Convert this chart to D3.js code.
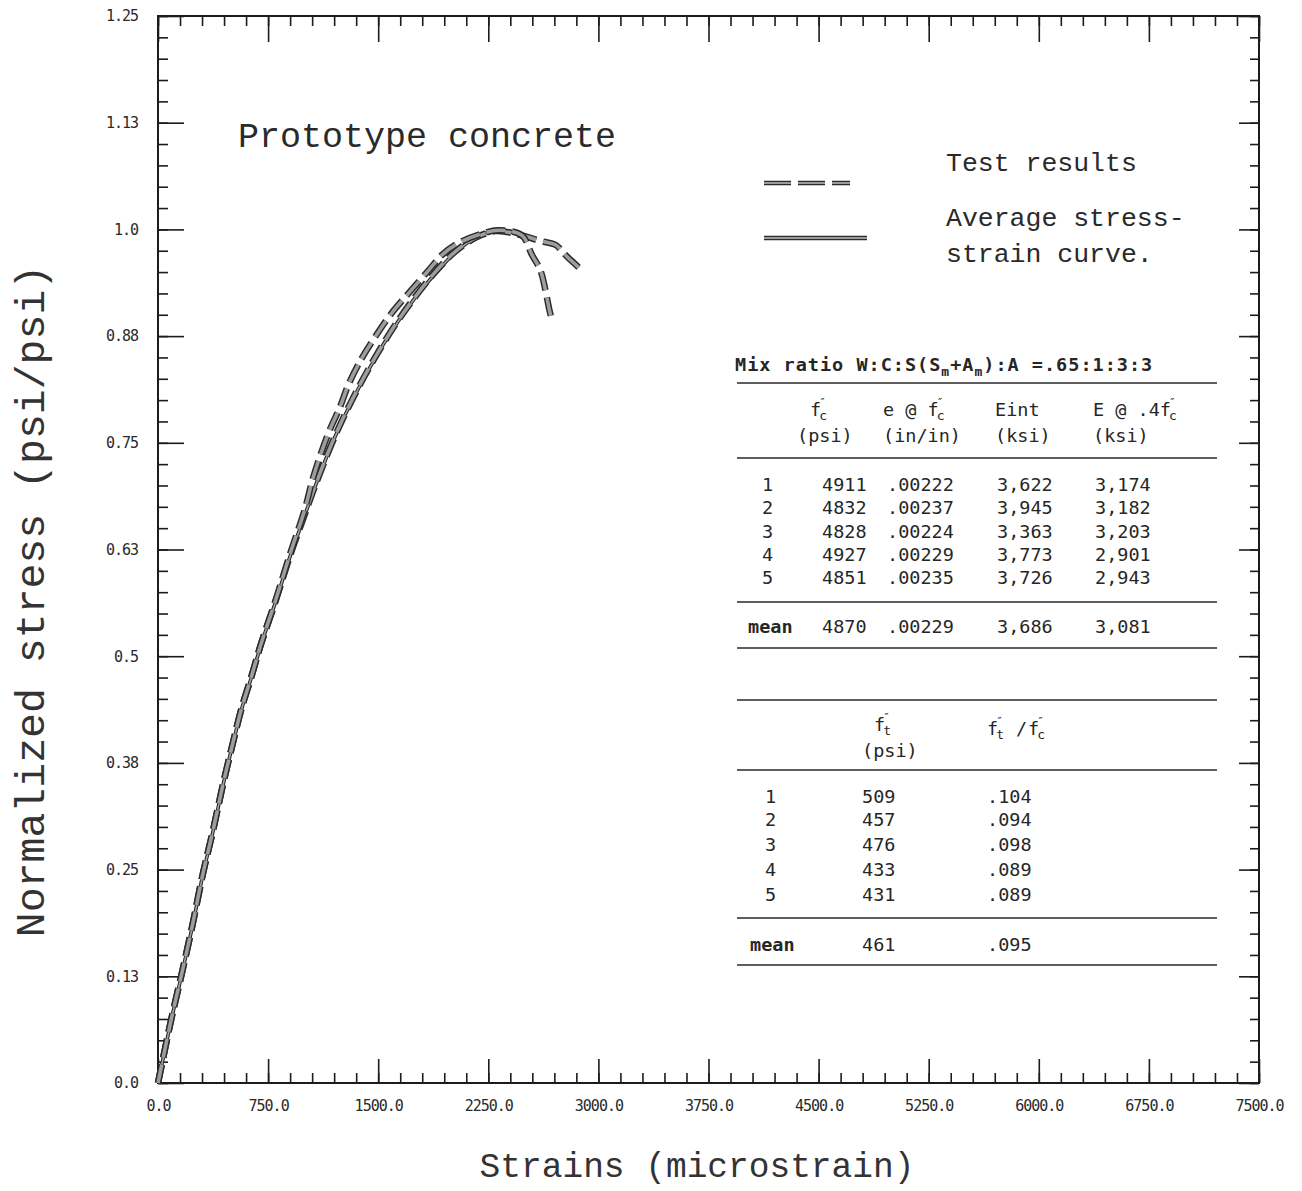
<!DOCTYPE html>
<html>
<head>
<meta charset="utf-8">
<script src="https://cdn.jsdelivr.net/npm/d3@7"></script>
<style>
  body { margin: 0; background: #fff; }
  svg { display: block; }
</style>
</head>
<body>
<svg id="chart" width="1302" height="1191"></svg>
<script>
// ---- axis definitions ----
const strainDomain = [0, 7500];
const stressDomain = [0, 1.25];
const xMajorTicks = [0, 750, 1500, 2250, 3000, 3750, 4500, 5250, 6000, 6750, 7500];
const xTickLabels = ["0.0", "750.0", "1500.0", "2250.0", "3000.0", "3750.0", "4500.0", "5250.0", "6000.0", "6750.0", "7500.0"];
const yMajorTicks = [0, 0.125, 0.25, 0.375, 0.5, 0.625, 0.75, 0.875, 1.0, 1.125, 1.25];
const yTickLabels = ["0.0", "0.13", "0.25", "0.38", "0.5", "0.63", "0.75", "0.88", "1.0", "1.13", "1.25"];
const xMinorStep = 150;
const yMinorStep = 0.025;

// ---- curves: [microstrain, normalized stress] ----
const averageCurve = [
  [0, 0], [92, 0.075], [159, 0.125], [230, 0.18], [307, 0.245], [375, 0.295],
  [443, 0.349], [511, 0.398], [568, 0.437], [636, 0.475], [705, 0.515], [800, 0.563],
  [900, 0.617], [1000, 0.665], [1069, 0.698], [1206, 0.757], [1342, 0.806],
  [1479, 0.849], [1615, 0.887], [1752, 0.92], [1888, 0.948], [2025, 0.973],
  [2161, 0.99], [2298, 0.999], [2434, 0.996], [2502, 0.991]
];
const testCurveA = [
  [0, 0], [92, 0.076], [159, 0.126], [230, 0.181], [307, 0.246], [375, 0.296],
  [443, 0.35], [511, 0.399], [568, 0.438], [636, 0.476], [705, 0.516], [800, 0.565],
  [900, 0.62], [1000, 0.672], [1058, 0.71], [1160, 0.761], [1240, 0.792],
  [1297, 0.818], [1388, 0.849], [1479, 0.874], [1592, 0.902], [1706, 0.925],
  [1843, 0.952], [1934, 0.97], [2047, 0.984], [2206, 0.995], [2320, 0.999],
  [2479, 0.993], [2548, 0.970], [2605, 0.952], [2639, 0.929], [2662, 0.909], [2685, 0.892]
];
const testCurveB = [
  [0, 0], [92, 0.076], [159, 0.126], [230, 0.181], [307, 0.246], [375, 0.296],
  [443, 0.35], [511, 0.399], [568, 0.438], [636, 0.476], [705, 0.516], [800, 0.564],
  [900, 0.618], [1000, 0.666], [1069, 0.699], [1206, 0.758], [1342, 0.807],
  [1479, 0.85], [1615, 0.888], [1752, 0.921], [1888, 0.95], [2025, 0.974],
  [2161, 0.99], [2298, 0.998], [2434, 0.995], [2616, 0.986], [2707, 0.982],
  [2787, 0.968], [2889, 0.952]
];

// ---- compression test table ----
const mixRatioParts = ["Mix ratio W:C:S(S", "m", "+A", "m", "):A =.65:1:3:3"];
const specimenIds = ["1", "2", "3", "4", "5"];
const fcPsi = ["4911", "4832", "4828", "4927", "4851"];
const strainAtPeak = [".00222", ".00237", ".00224", ".00229", ".00235"];
const initialModulus = ["3,622", "3,945", "3,363", "3,773", "3,726"];
const secantModulus = ["3,174", "3,182", "3,203", "2,901", "2,943"];
const compressionMean = ["mean", "4870", ".00229", "3,686", "3,081"];

// ---- tension test table ----
const ftPsi = ["509", "457", "476", "433", "431"];
const ftOverFc = [".104", ".094", ".098", ".089", ".089"];
const tensionMean = ["mean", "461", ".095"];

// ---- layout ----
const svg = d3.select("#chart");
svg.append("rect").attr("width", 1302).attr("height", 1191).attr("fill", "#fff");

const plot = { left: 158, right: 1259, top: 16, bottom: 1083 };
const x = d3.scaleLinear().domain(strainDomain).range([plot.left, plot.right]);
const y = d3.scaleLinear().domain(stressDomain).range([plot.bottom, plot.top]);

const ink = "#1c1c1c";
const tickFont = "'DejaVu Sans Mono', monospace";
const typeFont = "'Liberation Mono', 'DejaVu Sans Mono', monospace";

const xMinor = d3.range(0, strainDomain[1] + 1, xMinorStep);
const yMinor = d3.range(0, 50 + 1).map(i => +(i * yMinorStep).toFixed(3));

function styleAxis(g) {
  g.select(".domain").remove();
  g.selectAll(".tick line").attr("stroke", ink).attr("stroke-width", 1.6);
  g.selectAll(".tick text").attr("fill", "#2a2a2a").attr("font-family", tickFont)
    .attr("font-size", 15).attr("letter-spacing", -1);
}

// bottom axis
svg.append("g").attr("transform", `translate(0,${plot.bottom})`)
  .call(d3.axisBottom(x).tickValues(xMinor).tickSize(-10).tickFormat(""))
  .call(styleAxis);
svg.append("g").attr("transform", `translate(0,${plot.bottom})`)
  .call(d3.axisBottom(x).tickValues(xMajorTicks).tickSize(-24).tickPadding(17)
    .tickFormat((d, i) => xTickLabels[i]))
  .call(styleAxis);

// top axis
svg.append("g").attr("transform", `translate(0,${plot.top})`)
  .call(d3.axisTop(x).tickValues(xMinor).tickSize(-10).tickFormat(""))
  .call(styleAxis);
svg.append("g").attr("transform", `translate(0,${plot.top})`)
  .call(d3.axisTop(x).tickValues(xMajorTicks).tickSize(-26).tickFormat(""))
  .call(styleAxis);

// left axis
svg.append("g").attr("transform", `translate(${plot.left},0)`)
  .call(d3.axisLeft(y).tickValues(yMinor).tickSize(-10).tickFormat(""))
  .call(styleAxis);
svg.append("g").attr("transform", `translate(${plot.left},0)`)
  .call(d3.axisLeft(y).tickValues(yMajorTicks).tickSize(-26).tickPadding(20)
    .tickFormat((d, i) => yTickLabels[i]))
  .call(styleAxis);

// right axis
svg.append("g").attr("transform", `translate(${plot.right},0)`)
  .call(d3.axisRight(y).tickValues(yMinor).tickSize(-9).tickFormat(""))
  .call(styleAxis);
svg.append("g").attr("transform", `translate(${plot.right},0)`)
  .call(d3.axisRight(y).tickValues(yMajorTicks).tickSize(-20).tickFormat(""))
  .call(styleAxis);

// frame
svg.append("rect")
  .attr("x", plot.left).attr("y", plot.top)
  .attr("width", plot.right - plot.left).attr("height", plot.bottom - plot.top)
  .attr("fill", "none").attr("stroke", ink).attr("stroke-width", 2);

// ---- curves ----
const line = d3.line().x(d => x(d[0])).y(d => y(d[1])).curve(d3.curveCatmullRom.alpha(0.5));
const dash = "19 7";

function dashedTrace(data) {
  svg.append("path").datum(data).attr("d", line)
    .attr("fill", "none").attr("stroke", "#2b2b2b").attr("stroke-width", 6.5)
    .attr("stroke-dasharray", dash);
  svg.append("path").datum(data).attr("d", line)
    .attr("fill", "none").attr("stroke", "#9d9d9d").attr("stroke-width", 3.6)
    .attr("stroke-dasharray", dash);
}
function solidTrace(data) {
  svg.append("path").datum(data).attr("d", line)
    .attr("fill", "none").attr("stroke", "#222").attr("stroke-width", 3.6);
  svg.append("path").datum(data).attr("d", line)
    .attr("fill", "none").attr("stroke", "#a3a3a3").attr("stroke-width", 1.6);
}
solidTrace(averageCurve);
dashedTrace(testCurveB);
dashedTrace(testCurveA);

// ---- legend ----
const legendLine = d3.line();
function legendSample(y0, x0, x1, dashed) {
  const pts = [[x0, y0], [x1, y0]];
  svg.append("path").attr("d", legendLine(pts)).attr("stroke", "#2b2b2b")
    .attr("stroke-width", 4.5).attr("stroke-dasharray", dashed ? "27 7" : null);
  svg.append("path").attr("d", legendLine(pts)).attr("stroke", "#9b9b9b")
    .attr("stroke-width", 2).attr("stroke-dasharray", dashed ? "27 7" : null);
}
legendSample(183, 764, 850, true);
legendSample(238, 764, 867, false);

const bigText = svg.append("g").attr("font-family", typeFont).attr("fill", "#2a2a2a");
bigText.append("text").attr("x", 238).attr("y", 147).attr("font-size", 35).text("Prototype concrete");
bigText.append("text").attr("x", 946).attr("y", 171).attr("font-size", 26.5).text("Test results");
bigText.append("text").attr("x", 946).attr("y", 226).attr("font-size", 26.5).text("Average stress-");
bigText.append("text").attr("x", 946).attr("y", 262).attr("font-size", 26.5).text("strain curve.");

// axis titles
bigText.append("text").attr("x", 697).attr("y", 1177).attr("text-anchor", "middle")
  .attr("font-size", 34.5).attr("fill", "#333").text("Strains (microstrain)");
bigText.append("text").attr("transform", "translate(44,601) rotate(-90)").attr("text-anchor", "middle")
  .attr("font-size", 41.5).attr("fill", "#333").text("Normalized stress (psi/psi)");

// ---- tables ----
const tbl = svg.append("g").attr("font-family", tickFont).attr("font-size", 18.5).attr("fill", "#262626");
const CH = 18.5 * 0.602;

function rule(yPos) {
  tbl.append("line").attr("x1", 737).attr("x2", 1217).attr("y1", yPos).attr("y2", yPos)
    .attr("stroke", "#2a2a2a").attr("stroke-width", 1.7);
}
function primeSub(xPos, yPos, base, sub) {
  tbl.append("text").attr("x", xPos).attr("y", yPos).text(base);
  const w = base.length * CH;
  tbl.append("text").attr("x", xPos + w - 2).attr("y", yPos + 4).attr("font-size", 13).text(sub);
  tbl.append("text").attr("x", xPos + w - 2).attr("y", yPos - 10).attr("font-size", 11).text("\u2033");
}

// mix ratio heading
const mix = tbl.append("text").attr("x", 735).attr("y", 371).attr("font-weight", "bold")
  .attr("letter-spacing", 1);
mixRatioParts.forEach((part, i) => {
  const isSub = i === 1 || i === 3;
  mix.append("tspan").attr("dy", isSub ? 5 : (i > 0 ? -5 : 0))
    .attr("font-size", isSub ? 13 : 18.5).text(part);
});

rule(383);
primeSub(810, 416, "f", "c");
primeSub(883, 416, "e @ f", "c");
tbl.append("text").attr("x", 995).attr("y", 416).text("Eint");
primeSub(1093, 416, "E @ .4f", "c");
tbl.append("text").attr("x", 797).attr("y", 442).text("(psi)");
tbl.append("text").attr("x", 883).attr("y", 442).text("(in/in)");
tbl.append("text").attr("x", 995).attr("y", 442).text("(ksi)");
tbl.append("text").attr("x", 1093).attr("y", 442).text("(ksi)");
rule(458);

const compRowsY = [491, 514, 538, 561, 584];
const compCols = [762, 822, 887, 997, 1095];
specimenIds.forEach((id, i) => {
  [id, fcPsi[i], strainAtPeak[i], initialModulus[i], secantModulus[i]].forEach((v, j) => {
    tbl.append("text").attr("x", compCols[j]).attr("y", compRowsY[i]).text(v);
  });
});
rule(602);
compressionMean.forEach((v, j) => {
  tbl.append("text").attr("x", j === 0 ? 748 : compCols[j]).attr("y", 633)
    .attr("font-weight", j === 0 ? "bold" : null).text(v);
});
rule(648);

rule(700);
primeSub(874, 731, "f", "t");
tbl.append("text").attr("x", 862).attr("y", 757).text("(psi)");
primeSub(987, 735, "f", "t");
tbl.append("text").attr("x", 1016).attr("y", 735).text("/");
primeSub(1028, 735, "f", "c");
rule(770);

const tenRowsY = [803, 826, 851, 876, 901];
const tenCols = [765, 862, 987];
specimenIds.forEach((id, i) => {
  [id, ftPsi[i], ftOverFc[i]].forEach((v, j) => {
    tbl.append("text").attr("x", tenCols[j]).attr("y", tenRowsY[i]).text(v);
  });
});
rule(918);
tensionMean.forEach((v, j) => {
  tbl.append("text").attr("x", j === 0 ? 750 : tenCols[j]).attr("y", 951)
    .attr("font-weight", j === 0 ? "bold" : null).text(v);
});
rule(965);
</script>
</body>
</html>
